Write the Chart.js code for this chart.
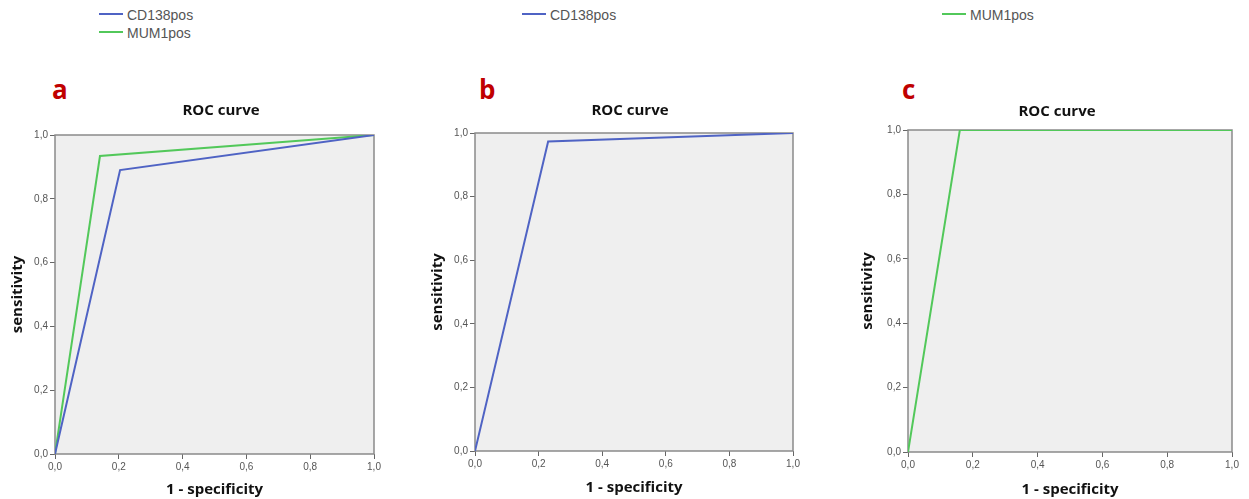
<!DOCTYPE html>
<html>
<head>
<meta charset="UTF-8">
<title>ROC curves</title>
<script src="https://cdn.jsdelivr.net/npm/chart.js"></script>
<style>
    html, body {
        margin: 0;
        padding: 0;
        background: #fff;
        overflow: hidden;
        width: 1249px;
        height: 499px;
    }
    #page {
        position: relative;
        width: 1249px;
        height: 499px;
    }
    .panel {
        position: absolute;
        top: 90px;
    }
    .letter {
        position: absolute;
        font-family: "Open Sans", sans-serif;
        font-weight: bold;
        font-size: 26px;
        line-height: 26px;
        color: #c00000;
    }
    .legend-item {
        position: absolute;
        font-family: "Liberation Sans", Arial, sans-serif;
        font-size: 14px;
        line-height: 16px;
        color: #555;
        white-space: nowrap;
    }
    .legend-item span.swatch {
        display: inline-block;
        width: 24px;
        height: 2px;
        vertical-align: middle;
        margin-right: 4px;
        position: relative;
        top: -2px;
    }
</style>
</head>
<body>
<div id="page">
    <div class="letter" style="left:52px; top:76px;">a</div>
    <div class="letter" style="left:479px; top:76px;">b</div>
    <div class="letter" style="left:902px; top:76px;">c</div>

    <div class="panel" style="left:0px;"><canvas id="rocA" width="442" height="409"></canvas></div>
    <div class="panel" style="left:420px;"><canvas id="rocB" width="420" height="409"></canvas></div>
    <div class="panel" style="left:850px;"><canvas id="rocC" width="414" height="409"></canvas></div>
</div>

<script>
    // data
    const seriesNames = ['CD138pos', 'MUM1pos'];
    const seriesColors = ['#4f63c4', '#52c85a'];
    const tickValues = [0, 0.2, 0.4, 0.6, 0.8, 1.0];
    const tickLabels = ['0,0', '0,2', '0,4', '0,6', '0,8', '1,0'];

    const cd138A_x = [0, 0.204, 1];
    const cd138A_y = [0, 0.890, 1];
    const mum1A_x = [0, 0.141, 1];
    const mum1A_y = [0, 0.934, 1];

    const cd138B_x = [0, 0.230, 1];
    const cd138B_y = [0, 0.973, 1];

    const mum1C_x = [0, 0.160, 1];
    const mum1C_y = [0, 1.000, 1];

    function points(xs, ys) {
        return xs.map((x, i) => ({ x: x, y: ys[i] }));
    }

    function line(name, xs, ys) {
        const idx = seriesNames.indexOf(name);
        return {
            label: name,
            data: points(xs, ys),
            showLine: true,
            borderColor: seriesColors[idx],
            backgroundColor: seriesColors[idx],
            borderWidth: 2,
            pointRadius: 0,
            tension: 0
        };
    }

    // grey plot box with a frame all round
    const plotBox = {
        id: 'plotBox',
        beforeDraw(chart) {
            const a = chart.chartArea;
            const ctx = chart.ctx;
            ctx.save();
            ctx.fillStyle = '#efefef';
            ctx.fillRect(a.left, a.top, a.right - a.left, a.bottom - a.top);
            ctx.restore();
        },
        beforeDatasetsDraw(chart) {
            const a = chart.chartArea;
            const ctx = chart.ctx;
            ctx.save();
            ctx.strokeStyle = '#8a8a8a';
            ctx.lineWidth = 1.5;
            ctx.strokeRect(a.left, a.top, a.right - a.left, a.bottom - a.top);
            ctx.restore();
        }
    };

    const titleFont = { family: 'Open Sans', size: 15, weight: 'bold' };
    const tickFont = { family: 'Liberation Sans', size: 10 };

    function makeRoc(id, datasets, p) {
        return new Chart(document.getElementById(id), {
            type: 'scatter',
            data: { datasets: datasets },
            options: {
                responsive: false,
                animation: false,
                layout: { padding: 0 },
                plugins: {
                    legend: { display: false },
                    tooltip: { enabled: false },
                    title: {
                        display: true,
                        text: 'ROC curve',
                        font: titleFont,
                        color: '#111',
                        padding: { top: p.titleTop, bottom: p.titleBottom }
                    }
                },
                scales: {
                    x: {
                        type: 'linear',
                        min: 0,
                        max: 1,
                        afterBuildTicks: s => { s.ticks = tickValues.map(v => ({ value: v })); },
                        afterFit: s => { s.height = p.xAxisH; },
                        ticks: {
                            callback: (v, i) => tickLabels[i],
                            font: tickFont,
                            color: '#555',
                            padding: 2,
                            maxRotation: 0,
                            autoSkip: false
                        },
                        grid: { drawOnChartArea: false, tickLength: 5, color: '#666' },
                        border: { display: false },
                        title: {
                            display: true,
                            text: '1 - specificity',
                            font: titleFont,
                            color: '#111',
                            padding: { top: 0, bottom: p.xTitlePad }
                        }
                    },
                    y: {
                        type: 'linear',
                        min: 0,
                        max: 1,
                        afterBuildTicks: s => { s.ticks = tickValues.map(v => ({ value: v })); },
                        afterFit: s => { s.width = p.yAxisW; },
                        ticks: {
                            callback: (v, i) => tickLabels[i],
                            font: tickFont,
                            color: '#555',
                            padding: 2
                        },
                        grid: { drawOnChartArea: false, tickLength: 5, color: '#666' },
                        border: { display: false },
                        title: {
                            display: true,
                            text: 'sensitivity',
                            font: titleFont,
                            color: '#111',
                            padding: { top: 9, bottom: 0 }
                        }
                    },
                    // empty right-hand axis, only holds the space right of the plot
                    spacer: {
                        type: 'linear',
                        position: 'right',
                        min: 0,
                        max: 1,
                        afterFit: s => { s.width = p.padRight; },
                        ticks: { display: false },
                        grid: { display: false },
                        border: { display: false }
                    }
                }
            },
            plugins: [plotBox]
        });
    }

    makeRoc('rocA', [
        line('CD138pos', cd138A_x, cd138A_y),
        line('MUM1pos', mum1A_x, mum1A_y)
    ], { padRight: 68, titleTop: 12, titleBottom: 15, xAxisH: 45, xTitlePad: 0, yAxisW: 55 });

    makeRoc('rocB', [
        line('CD138pos', cd138B_x, cd138B_y)
    ], { padRight: 47, titleTop: 12, titleBottom: 13, xAxisH: 48, xTitlePad: 2, yAxisW: 55 });

    makeRoc('rocC', [
        line('MUM1pos', mum1C_x, mum1C_y)
    ], { padRight: 32, titleTop: 13, titleBottom: 9, xAxisH: 47, xTitlePad: 0, yAxisW: 58 });

    // legends above each panel
    const legendSpots = [
        { left: 99, top: 7, name: 'CD138pos' },
        { left: 99, top: 25, name: 'MUM1pos' },
        { left: 522, top: 7, name: 'CD138pos' },
        { left: 942, top: 7, name: 'MUM1pos' }
    ];
    const page = document.getElementById('page');
    legendSpots.forEach(s => {
        const item = document.createElement('div');
        item.className = 'legend-item';
        item.style.left = s.left + 'px';
        item.style.top = s.top + 'px';
        const sw = document.createElement('span');
        sw.className = 'swatch';
        sw.style.background = seriesColors[seriesNames.indexOf(s.name)];
        item.appendChild(sw);
        item.appendChild(document.createTextNode(s.name));
        page.appendChild(item);
    });
</script>
</body>
</html>
